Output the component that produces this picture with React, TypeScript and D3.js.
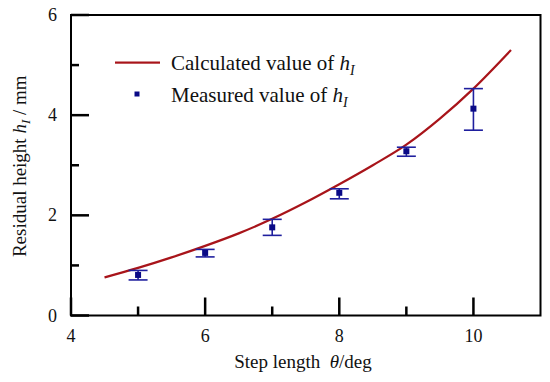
import React from "react";
import * as d3 from "d3";

const curveX = [4.5, 5, 5.5, 6, 6.5, 7, 7.5, 8, 8.5, 9, 9.5, 10, 10.56];
const curveY = [0.76, 0.95, 1.16, 1.39, 1.64, 1.93, 2.26, 2.62, 3.0, 3.41, 3.93, 4.53, 5.3];

const measX = [5, 6, 7, 8, 9, 10];
const measY = [0.81, 1.25, 1.76, 2.45, 3.28, 4.13];
const measLo = [0.71, 1.17, 1.6, 2.33, 3.18, 3.7];
const measHi = [0.9, 1.32, 1.92, 2.53, 3.36, 4.53];

const xMajor = [4, 6, 8, 10];
const xMinor = [5, 7, 9];
const yMajor = [0, 2, 4, 6];
const yMinor = [1, 3, 5];

const W = 550;
const H = 382;
const L = 71;
const R = 540.5;
const T = 15;
const B = 315.5;

const FONT = "Times New Roman, Liberation Serif, serif";
const RED = "#a8141a";
const BLUE = "#1f1f9e";
const NAVY = "#0a0a86";

export default function App() {
  const x = d3.scaleLinear().domain([4, 11]).range([L, R]);
  const y = d3.scaleLinear().domain([0, 6]).range([B, T]);
  const line = d3
    .line<number>()
    .x((_, i) => x(curveX[i]))
    .y((d) => y(d))
    .curve(d3.curveMonotoneX);

  return (
    <svg width={W} height={H} style={{ position: "absolute", left: 0, top: 0 }}>
      <rect x={0} y={0} width={W} height={H} fill="#fff" />
      <path d={line(curveY) || ""} fill="none" stroke={RED} strokeWidth={2.2} />
      {measX.map((mx, i) => {
        const cx = x(mx);
        return (
          <g key={"e" + i} stroke={BLUE} strokeWidth={1.6}>
            <line x1={cx} x2={cx} y1={y(measLo[i])} y2={y(measHi[i])} />
            <line x1={cx - 9.5} x2={cx + 9.5} y1={y(measLo[i])} y2={y(measLo[i])} />
            <line x1={cx - 9.5} x2={cx + 9.5} y1={y(measHi[i])} y2={y(measHi[i])} />
          </g>
        );
      })}
      {measX.map((mx, i) => (
        <rect key={"m" + i} x={x(mx) - 3} y={y(measY[i]) - 3} width={6} height={6} fill={NAVY} />
      ))}
      <rect x={L} y={T} width={R - L} height={B - T} fill="none" stroke="#000" strokeWidth={2} />
      <g fill="#000">
        {xMajor.map((v) => (
          <rect key={"xM" + v} x={x(v) - 1.25} y={B - 18} width={2.5} height={18} />
        ))}
        {xMinor.map((v) => (
          <rect key={"xm" + v} x={x(v) - 1.25} y={B - 9} width={2.5} height={9} />
        ))}
        {yMajor.map((v) => (
          <rect key={"yM" + v} x={L} y={y(v) - 1.25} width={18} height={2.5} />
        ))}
        {yMinor.map((v) => (
          <rect key={"ym" + v} x={L} y={y(v) - 1.25} width={8} height={2.5} />
        ))}
      </g>
      <g fontFamily={FONT} fill="#111">
        {xMajor.map((v) => (
          <text key={"xl" + v} x={x(v)} y={342} textAnchor="middle" fontSize={18}>
            {v}
          </text>
        ))}
        {yMajor.map((v) => (
          <text key={"yl" + v} x={57} y={y(v) + 6} textAnchor="end" fontSize={18}>
            {v}
          </text>
        ))}
        <text x={303} y={368} textAnchor="middle" fontSize={19}>
          Step length{"\u00a0\u00a0"}
          <tspan fontStyle="italic">θ</tspan>/deg
        </text>
        <text
          transform={`translate(26, ${(T + B) / 2 + 1}) rotate(-90)`}
          textAnchor="middle"
          fontSize={19}
        >
          Residual height <tspan fontStyle="italic">h</tspan>
          <tspan fontStyle="italic" fontSize={13} dy={4}>I</tspan>
          <tspan dy={-4}>{"\u00a0/ mm"}</tspan>
        </text>
        <text x={171} y={70} fontSize={21}>
          Calculated value of <tspan fontStyle="italic">h</tspan>
          <tspan fontStyle="italic" fontSize={14} dy={5}>I</tspan>
        </text>
        <text x={171} y={102} fontSize={21}>
          Measured value of <tspan fontStyle="italic">h</tspan>
          <tspan fontStyle="italic" fontSize={14} dy={5}>I</tspan>
        </text>
      </g>
      <rect x={115} y={61.5} width={45} height={2.2} fill={RED} />
      <rect x={134.5} y={91.5} width={5} height={5} fill={NAVY} />
    </svg>
  );
}
